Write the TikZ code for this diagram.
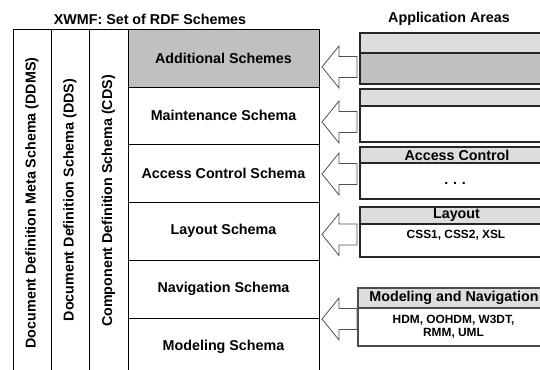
\documentclass[tikz,border=0pt]{standalone}
\usepackage{fontspec}
\setmainfont{Liberation Sans}
\definecolor{midgray}{HTML}{C0C0C0}
\definecolor{lightgray2}{HTML}{DDDDDD}
\definecolor{arrowgray}{HTML}{505050}
\begin{document}
\begin{tikzpicture}[x=1pt,y=-1pt,
  lbl/.style={font=\bfseries\fontsize{14.3}{16}\selectfont, inner sep=0pt},
  small/.style={font=\bfseries\fontsize{11.9}{13.2}\selectfont, inner sep=0pt, align=center},
  gridline/.style={draw=black, line width=0.9pt},
  appbox/.style={draw=black!85, line width=1.1pt},
  blockarrow/.style={draw=arrowgray, fill=white, line width=0.8pt, line join=miter}]
\useasboundingbox (0,0) rectangle (540,369);
\clip (0,0) rectangle (540,369);

% titles
\node[lbl] (title) at (150,19) {XWMF: Set of RDF Schemes};
\node[lbl] (apptitle) at (449,19) {Application Areas};

% left table
\fill[midgray] (128,29) rectangle (319,87);
\draw[gridline] (13,380) -- (13,29) -- (319,29) -- (319,380);
\foreach \x in {51,89,128} \draw[gridline] (\x,29) -- (\x,380);
\foreach \y in {87,144,202,260,318} \draw[gridline] (128,\y) -- (319,\y);

\node[lbl, rotate=90] (ddms) at (32,203) {Document Definition Meta Schema (DDMS)};
\node[lbl, rotate=90] (dds) at (70,200) {Document Definition Schema (DDS)};
\node[lbl, rotate=90] (cds) at (108.5,201) {Component Definition Schema (CDS)};

\node[lbl] (add) at (223.5,58) {Additional Schemes};
\node[lbl] (maint) at (223.5,115.5) {Maintenance Schema};
\node[lbl] (acc) at (223.5,173) {Access Control Schema};
\node[lbl] (lay) at (223.5,231) {Layout Schema};
\node[lbl] (nav) at (223.5,289) {Navigation Schema};
\node[lbl] (mod) at (223.5,347) {Modeling Schema};

% application boxes
% box 1
\fill[lightgray2] (360,33) rectangle (560,53);
\fill[midgray] (360,53) rectangle (560,84);
\draw[appbox] (360,33) rectangle (560,84);
\draw[appbox] (360,53) -- (560,53);
% box 2
\fill[lightgray2] (360,89) rectangle (560,106);
\draw[appbox] (360,89) rectangle (560,142);
\draw[appbox] (360,106) -- (560,106);
% box 3
\fill[lightgray2] (360,147) rectangle (560,163);
\draw[appbox] (360,147) rectangle (560,199);
\draw[appbox] (360,163) -- (560,163);
\node[lbl] (acctitle) at (457,155) {Access Control};
\node[lbl, anchor=base] (accdots) at (455,184) {.\,\,.\,\,.};
% box 4
\fill[lightgray2] (360,207) rectangle (560,224);
\draw[appbox] (360,207) rectangle (560,257);
\draw[appbox] (360,224) -- (560,224);
\node[lbl] (laytitle) at (456.5,215.5) {Layout};
\node[small] (laytext) at (456,235) {CSS1, CSS2, XSL};
% box 5
\fill[lightgray2] (358,288) rectangle (560,308);
\draw[appbox, draw=black!70] (358,288) rectangle (560,346);
\draw[appbox, draw=black!70] (358,308) -- (560,308);
\node[lbl] (modtitle) at (454,298) {Modeling and Navigation};
\node[small] (modtext) at (453.5,326.5) {HDM, OOHDM, W3DT,\\RMM, UML};

% block arrows
\foreach \c/\n in {67/a1,122/a2,174/a3,234.5/a4,319/a5} {
  \draw[blockarrow] (322,\c) -- (339,\c-21) -- (339,\c-10.5) -- (357,\c-10.5)
     -- (357,\c+10.5) -- (339,\c+10.5) -- (339,\c+21) -- cycle;
}
\end{tikzpicture}
\end{document}
